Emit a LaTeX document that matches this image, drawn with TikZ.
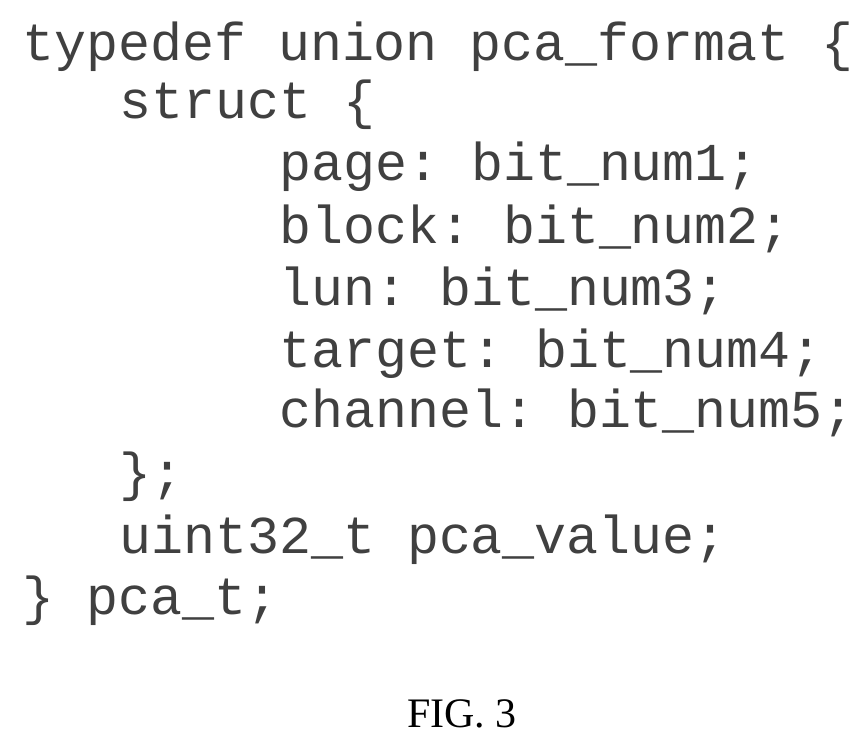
\documentclass[tikz,border=0pt]{standalone}
\usepackage{fontspec}
\setmonofont{Liberation Mono}
\setmainfont{Liberation Serif}
\begin{document}
\begin{tikzpicture}[x=1pt,y=1pt,
  code/.style={anchor=base west,inner sep=0pt,font=\fontsize{53.3}{60}\selectfont\ttfamily,text=black!75}]
\useasboundingbox (0,0) rectangle (867,-746);
\node[code] (l1) at (22,-61) {typedef union pca\_format \{};
\node[code] (l2) at (119,-119) {struct \{};
\node[code] (l3) at (279,-181) {page: bit\_num1;};
\node[code] (l4) at (279,-243) {block: bit\_num2;};
\node[code] (l5) at (279,-305) {lun: bit\_num3;};
\node[code] (l6) at (279,-367) {target: bit\_num4;};
\node[code] (l7) at (279,-427) {channel: bit\_num5;};
\node[code] (l8) at (119,-490) {\};};
\node[code] (l9) at (119,-553) {uint32\_t pca\_value;};
\node[code] (l10) at (22,-614) {\} pca\_t;};
\node[anchor=base,inner sep=0pt,font=\fontsize{42}{46}\selectfont] (fig) at (462,-727) {FIG. 3};
\end{tikzpicture}
\end{document}
